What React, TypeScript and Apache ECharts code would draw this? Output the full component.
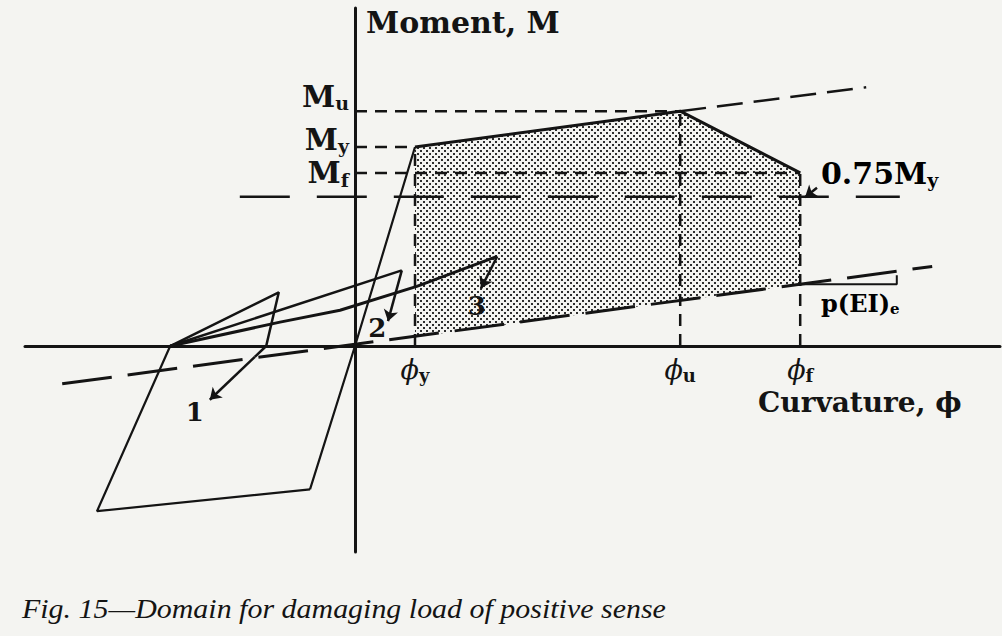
import React, { useEffect, useRef } from "react";
import * as echarts from "echarts";

// Units: curvature as phi / phi_y, moment as M / M_y
const PHI_Y = 1.0;
const PHI_U = 5.42;
const PHI_F = 7.42;
const M_U = 1.18;
const M_Y = 1.0;
const M_F = 0.87;
const M_075 = 0.75;

const phiTicks = [PHI_Y, PHI_U, PHI_F];
const phiTickSubs = ["y", "u", "f"];
const momentTicks = [M_U, M_Y, M_F];
const momentTickSubs = ["u", "y", "f"];

const envelope = [[PHI_Y, M_Y], [PHI_U, M_U], [PHI_F, M_F]];
const envelopeExt = [[PHI_U, M_U], [8.52, 1.3]];
const domainPoly = [[PHI_Y, M_Y], [PHI_U, M_U], [PHI_F, M_F], [PHI_F, 0.31], [PHI_Y, 0.045]];
const elasticLine = [[PHI_Y, M_Y], [0, 0], [-0.75, -0.72]];
const negativeLoop = [[-0.75, -0.72], [-4.3, -0.83], [-3.08, 0]];
const pEIline = [[-4.88, -0.19], [9.62, 0.4]];
const slopeMark = [[PHI_F, 0.31], [9.03, 0.31], [9.03, 0.355]];
const line075 = [[-1.92, M_075], [9.08, M_075]];

const loop1 = [[-3.08, 0], [-1.27, 0.27], [-1.48, 0], [-1.67, -0.055]];
const loop1Arrow = [[-1.67, -0.055], [-2.42, -0.27]];
const loop2 = [[-3.08, 0], [0.78, 0.38]];
const loop2Arrow = [[0.78, 0.38], [0.55, 0.125]];
const loop3 = [[-3.08, 0], [-1.25, 0.12], [-0.25, 0.18], [1.03, 0.3], [2.37, 0.45]];
const loop3Arrow = [[2.37, 0.45], [2.1, 0.29]];
const arrow075 = [[7.7, 0.795], [7.5, 0.748]];

const loopLabels = ["1", "2", "3"];
const loopLabelPos = [[-2.67, -0.33], [0.37, 0.09], [2.03, 0.2]];

const INK = "#141414";
const BG = "#f4f4f1";
const SERIF = "'DejaVu Serif', serif";
const TIMES = "'Liberation Serif', serif";

function makeDots(): HTMLCanvasElement {
  const c = document.createElement("canvas");
  c.width = 6;
  c.height = 6;
  const g = c.getContext("2d")!;
  g.fillStyle = BG;
  g.fillRect(0, 0, 6, 6);
  g.fillStyle = "#2e2e2e";
  g.fillRect(0, 0, 2, 2);
  g.fillRect(3, 3, 2, 2);
  return c;
}

function lineSeries(data: number[][], width: number, type: any, z = 3) {
  return {
    type: "line",
    data,
    symbol: "none",
    showSymbol: false,
    silent: true,
    animation: false,
    z,
    lineStyle: { color: INK, width, type, cap: "butt" },
  };
}

export default function App() {
  const ref = useRef<HTMLDivElement>(null);
  useEffect(() => {
    if (!ref.current) return;
    const chart = echarts.init(ref.current, undefined, { renderer: "svg" });
    const dots = makeDots();
    const rich = {
      m: { fontFamily: SERIF, fontWeight: "bold", fontSize: 30, color: INK },
      s: { fontFamily: SERIF, fontWeight: "bold", fontSize: 19, color: INK, padding: [14, 0, 0, 0] },
    };
    const shortDash = [12, 8];
    const labelSeriesBase = {
      type: "scatter",
      symbolSize: 0,
      silent: true,
      z: 5,
      itemStyle: { opacity: 1, color: INK },
    };
    const option: any = {
      animation: false,
      backgroundColor: BG,
      grid: { left: 25, right: 2, top: 8, bottom: 84 },
      xAxis: {
        type: "value",
        min: -5.5,
        max: 10.75,
        axisLine: { onZero: true, lineStyle: { color: INK, width: 3 } },
        axisTick: { show: false },
        splitLine: { show: false },
        axisLabel: { show: false },
      },
      yAxis: {
        type: "value",
        min: -1.035,
        max: 1.6985,
        axisLine: { onZero: true, lineStyle: { color: INK, width: 3 } },
        axisTick: { show: false },
        splitLine: { show: false },
        axisLabel: { show: false },
      },
      series: [
        {
          type: "custom",
          coordinateSystem: "cartesian2d",
          data: [[PHI_Y, M_Y]],
          silent: true,
          z: 1,
          renderItem: (_p: any, api: any) => ({
            type: "polygon",
            shape: { points: domainPoly.map((p) => api.coord(p)) },
            style: {
              fill: { image: dots, repeat: "repeat", imageWidth: 6, imageHeight: 6 },
            },
          }),
        },
        lineSeries(envelope, 3),
        lineSeries(envelopeExt, 2.5, [26, 11]),
        lineSeries([[0, M_U], [PHI_U, M_U]], 2.5, shortDash),
        lineSeries([[0, M_Y], [PHI_Y, M_Y]], 2.5, shortDash),
        lineSeries([[0, M_F], [PHI_F, M_F]], 2.5, shortDash),
        lineSeries([[PHI_Y, 0], [PHI_Y, M_Y]], 2.5, shortDash),
        lineSeries([[PHI_U, 0], [PHI_U, M_U]], 2.5, shortDash),
        lineSeries([[PHI_F, 0], [PHI_F, M_F]], 2.5, shortDash),
        lineSeries(line075, 2.5, [50, 27]),
        lineSeries(pEIline, 3, [50, 16]),
        lineSeries(slopeMark, 2),
        lineSeries(elasticLine, 2.2),
        lineSeries(negativeLoop, 2.2),
        lineSeries(loop1, 2.5),
        lineSeries(loop2, 2.5),
        lineSeries(loop3, 3),
        {
          type: "lines",
          coordinateSystem: "cartesian2d",
          polyline: false,
          silent: true,
          z: 4,
          symbol: ["none", "arrow"],
          symbolSize: 11,
          lineStyle: { color: INK, width: 2.5, opacity: 1, curveness: 0 },
          data: [loop1Arrow, loop2Arrow, loop3Arrow, arrow075].map((c) => ({ coords: c })),
        },
        {
          ...labelSeriesBase,
          data: momentTicks.map((v, i) => ({
            value: [0, v],
            label: { offset: [0, [-15, -8, 0][i]] },
          })),
          label: {
            show: true,
            position: "left",
            distance: 6,
            formatter: (p: any) => `{m|M}{s|${momentTickSubs[p.dataIndex]}}`,
            rich,
          },
        },
        {
          ...labelSeriesBase,
          data: phiTicks.map((v) => [v, 0]),
          label: {
            show: true,
            position: "bottom",
            distance: 8,
            formatter: (p: any) => `{m|ϕ}{s|${phiTickSubs[p.dataIndex]}}`,
            rich: {
              m: { fontFamily: SERIF, fontStyle: "italic", fontSize: 27, color: INK },
              s: { fontFamily: SERIF, fontWeight: "bold", fontSize: 18, color: INK, padding: [12, 0, 0, 0] },
            },
          },
        },
        {
          ...labelSeriesBase,
          data: loopLabelPos,
          label: {
            show: true,
            position: "inside",
            formatter: (p: any) => loopLabels[p.dataIndex],
            fontFamily: SERIF,
            fontWeight: "bold",
            fontSize: 26,
            color: INK,
          },
        },
      ],
      graphic: [
        {
          type: "text",
          left: 366,
          top: 7,
          style: { text: "Moment, M", font: `bold 30px ${SERIF}`, fill: INK },
        },
        {
          type: "text",
          left: 758,
          top: 388,
          style: { text: "Curvature, ϕ", font: `bold 28px ${SERIF}`, fill: INK },
        },
        {
          type: "text",
          left: 821,
          top: 158,
          style: {
            text: "{m|0.75M}{s|y}",
            rich,
          },
        },
        {
          type: "text",
          left: 821,
          top: 291,
          style: {
            text: "{m|p(EI)}{s|e}",
            rich: {
              m: { fontFamily: SERIF, fontWeight: "bold", fontSize: 24, color: INK },
              s: { fontFamily: SERIF, fontWeight: "bold", fontSize: 15, color: INK, padding: [12, 0, 0, 0] },
            },
          },
        },
        {
          type: "text",
          left: 22,
          top: 594,
          scaleX: 1.07,
          style: {
            text: "Fig. 15—Domain for damaging load of positive sense",
            font: `italic 28px ${TIMES}`,
            fill: INK,
          },
        },
      ],
    };
    chart.setOption(option);
    return () => chart.dispose();
  }, []);
  return (
    <div
      ref={ref}
      style={{ position: "fixed", left: 0, top: 0, width: 1002, height: 636 }}
    />
  );
}
